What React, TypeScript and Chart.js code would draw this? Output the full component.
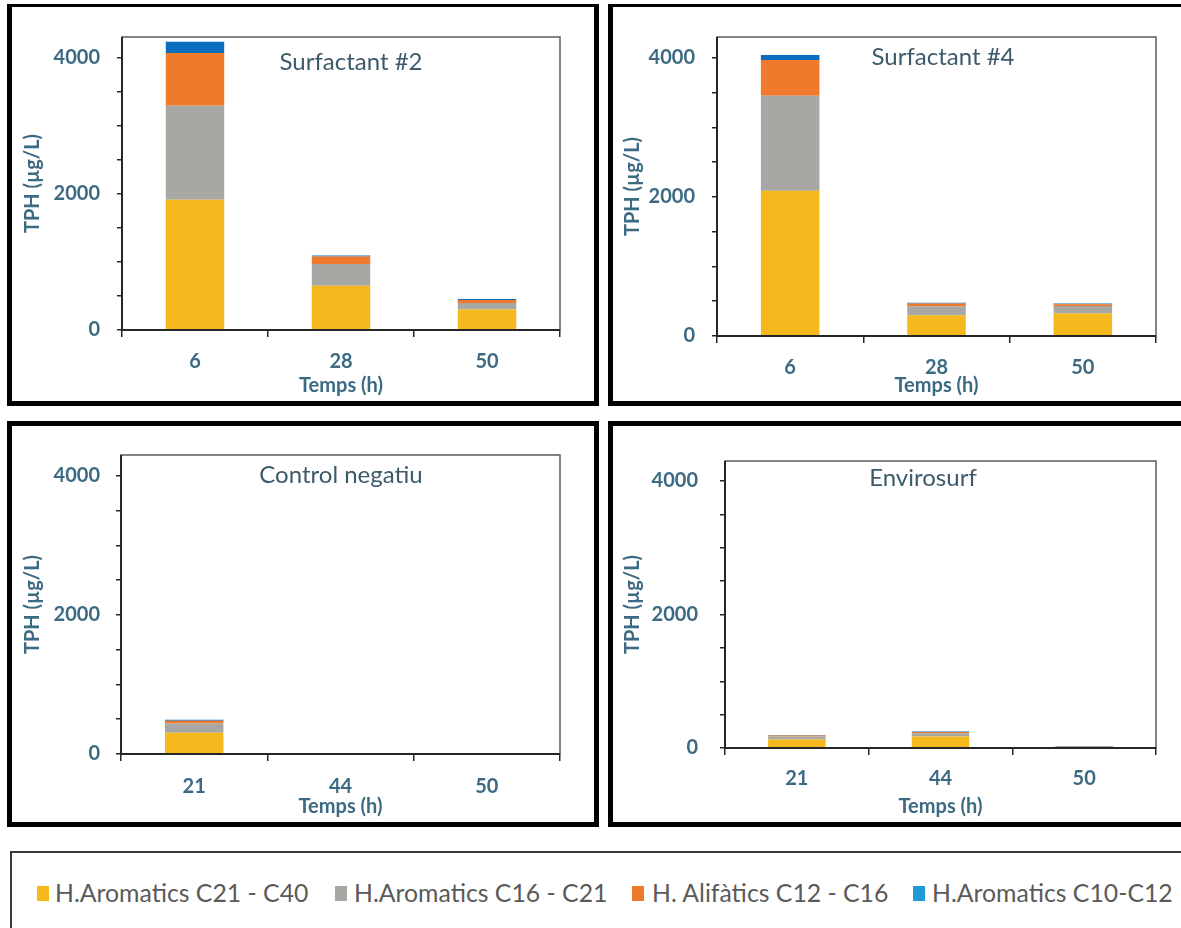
import React, { useEffect, useRef } from 'react';
import { Chart, registerables } from 'chart.js';

Chart.register(...registerables);

// ---------- data ----------
const seriesNames = [
  'H.Aromatics C21 - C40',
  'H.Aromatics C16 - C21',
  'H. Alifàtics C12 - C16',
  'H.Aromatics C10-C12',
];
const seriesColors = ['#F5B91E', '#A7A7A4', '#F07A2C', '#0B6DBE'];
const legendColors = ['#F5B91E', '#A7A7A4', '#F07A2C', '#1D9BD7'];

const timesSurf = ['6', '28', '50'];
const timesOther = ['21', '44', '50'];

const surf2C21C40 = [1910, 650, 300];
const surf2C16C21 = [1380, 320, 97];
const surf2C12C16 = [775, 110, 42];
const surf2C10C12 = [165, 15, 17];

const surf4C21C40 = [2090, 300, 324];
const surf4C16C21 = [1365, 129, 109];
const surf4C12C16 = [515, 38, 24];
const surf4C10C12 = [70, 12, 10];

const ctrlC21C40 = [306, 0, 0];
const ctrlC16C21 = [134, 0, 0];
const ctrlC12C16 = [38, 0, 0];
const ctrlC10C12 = [14, 0, 0];

const enviC21C40 = [127, 171, 5];
const enviC16C21 = [44, 49, 5];
const enviC12C16 = [15, 20, 8];
const enviC10C12 = [10, 9, 7];

const yTickValues = [0, 500, 1000, 1500, 2000, 2500, 3000, 3500, 4000];
const yLabelValues = [0, 2000, 4000];
const yMax = 4300;

const yAxisTitle = 'TPH (µg/L)';
const xAxisTitle = 'Temps (h)';

// ---------- layout (page coordinates) ----------
type Geo = {
  canvas: { left: number; top: number; width: number; height: number };
  area: { l: number; t: number; r: number; b: number };
  titleX: number;
  titleY: number;
  yTitleX: number;
  xTitleY: number;
  tickPad: number;
  catPad: number;
};

type PanelDef = {
  title: string;
  cats: string[];
  series: number[][];
  geo: Geo;
};

const panels: PanelDef[] = [
  {
    title: 'Surfactant #2',
    cats: timesSurf,
    series: [surf2C21C40, surf2C16C21, surf2C12C16, surf2C10C12],
    geo: {
      canvas: { left: 12, top: 8, width: 582, height: 393 },
      area: { l: 122, t: 35, r: 560, b: 330 },
      titleX: 351, titleY: 62, yTitleX: 33, xTitleY: 386, tickPad: 17, catPad: 13,
    },
  },
  {
    title: 'Surfactant #4',
    cats: timesSurf,
    series: [surf4C21C40, surf4C16C21, surf4C12C16, surf4C10C12],
    geo: {
      canvas: { left: 614, top: 8, width: 567, height: 393 },
      area: { l: 717, t: 35, r: 1156, b: 336 },
      titleX: 943, titleY: 57, yTitleX: 633, xTitleY: 386, tickPad: 17, catPad: 13,
    },
  },
  {
    title: 'Control negatiu',
    cats: timesOther,
    series: [ctrlC21C40, ctrlC16C21, ctrlC12C16, ctrlC10C12],
    geo: {
      canvas: { left: 12, top: 427, width: 582, height: 394 },
      area: { l: 121, t: 454, r: 560, b: 754 },
      titleX: 341, titleY: 475, yTitleX: 33, xTitleY: 807, tickPad: 16, catPad: 14,
    },
  },
  {
    title: 'Envirosurf',
    cats: timesOther,
    series: [enviC21C40, enviC16C21, enviC12C16, enviC10C12],
    geo: {
      canvas: { left: 614, top: 427, width: 567, height: 394 },
      area: { l: 725, t: 454, r: 1156, b: 748 },
      titleX: 923, titleY: 478, yTitleX: 633, xTitleY: 807, tickPad: 22, catPad: 12,
    },
  },
];

const TEXT_COLOR = '#3c6a83';
const TITLE_COLOR = '#3d5a6b';
const FONT = 'Lato';

const decorPlugin = {
  id: 'panelDecor',
  afterDatasetsDraw(chart: any, _args: any, opts: any) {
    const { ctx, chartArea: a } = chart;
    ctx.save();
    ctx.strokeStyle = '#5c5c5c';
    ctx.lineWidth = 1.5;
    ctx.strokeRect(a.left, a.top, a.right - a.left, a.bottom - a.top);
    ctx.strokeStyle = '#262626';
    ctx.lineWidth = 2;
    ctx.beginPath();
    ctx.moveTo(a.left, a.top);
    ctx.lineTo(a.left, a.bottom);
    ctx.lineTo(a.right, a.bottom);
    ctx.stroke();
    ctx.font = `400 24px ${FONT}`;
    ctx.fillStyle = TITLE_COLOR;
    ctx.textAlign = 'center';
    ctx.textBaseline = 'middle';
    ctx.fillText(opts.text, opts.x, opts.y);
    ctx.restore();
  },
};

function Panel({ def }: { def: PanelDef }) {
  const ref = useRef<HTMLCanvasElement | null>(null);
  useEffect(() => {
    if (!ref.current) return;
    const g = def.geo;
    const c = g.canvas;
    const padTop = g.area.t - c.top;
    const yWidth = g.area.l - c.left;
    const padRight = c.left + c.width - g.area.r;
    const xHeight = c.top + c.height - g.area.b;
    const axisFontSize = 20;
    const lh = axisFontSize * 1.2;
    const chart = new Chart(ref.current, {
      type: 'bar',
      data: {
        labels: def.cats,
        datasets: def.series.map((vals, i) => ({
          label: seriesNames[i],
          data: vals,
          backgroundColor: seriesColors[i],
          borderWidth: 0,
          barPercentage: 0.4,
          categoryPercentage: 1,
        })),
      },
      options: {
        responsive: false,
        animation: false,
        devicePixelRatio: 1,
        layout: { padding: { left: 0, top: padTop, right: padRight, bottom: 0 } },
        plugins: {
          legend: { display: false },
          tooltip: { enabled: false },
          title: { display: false },
          panelDecor: { text: def.title, x: g.titleX - c.left, y: g.titleY - c.top },
        } as any,
        scales: {
          x: {
            stacked: true,
            afterFit: (s: any) => { s.height = xHeight; },
            border: { display: false },
            grid: {
              display: true,
              offset: true,
              drawOnChartArea: false,
              drawTicks: true,
              tickLength: 7,
              color: '#262626',
              lineWidth: 1.5,
            },
            ticks: {
              color: TEXT_COLOR,
              font: { family: FONT, size: axisFontSize, weight: 'bold' },
              padding: g.catPad,
              maxRotation: 0,
            },
            title: {
              display: true,
              text: xAxisTitle,
              color: TEXT_COLOR,
              font: { family: FONT, size: axisFontSize, weight: 'bold' },
              padding: { top: 0, bottom: c.top + c.height - g.xTitleY - lh / 2 },
            },
          },
          y: {
            stacked: true,
            min: 0,
            max: yMax,
            afterFit: (s: any) => { s.width = yWidth; },
            afterBuildTicks: (s: any) => {
              s.ticks = yTickValues.map((v) => ({ value: v }));
            },
            border: { display: false },
            grid: {
              display: true,
              drawOnChartArea: false,
              drawTicks: true,
              tickLength: 5,
              color: '#262626',
              lineWidth: 1.5,
            },
            ticks: {
              autoSkip: false,
              color: TEXT_COLOR,
              font: { family: FONT, size: axisFontSize, weight: 'bold' },
              padding: g.tickPad,
              callback: (v: any) => (yLabelValues.includes(Number(v)) ? String(v) : ''),
            },
            title: {
              display: true,
              text: yAxisTitle,
              color: TEXT_COLOR,
              font: { family: FONT, size: axisFontSize, weight: 'bold' },
              padding: { top: g.yTitleX - c.left - lh / 2, bottom: 0 },
            },
          },
        },
      },
      plugins: [decorPlugin],
    });
    return () => chart.destroy();
  }, [def]);
  const c = def.geo.canvas;
  return (
    <canvas
      ref={ref}
      width={c.width}
      height={c.height}
      style={{ position: 'absolute', left: c.left, top: c.top, width: c.width, height: c.height }}
    />
  );
}

const frames = [
  { left: 7, top: 4, width: 592, height: 402, bt: 3, br: 5 },
  { left: 608, top: 4, width: 600, height: 402, bt: 3, br: 0 },
  { left: 7, top: 421, width: 592, height: 406, bt: 5, br: 5 },
  { left: 608, top: 421, width: 600, height: 406, bt: 5, br: 0 },
];

const legendPos = [
  { box: 37, text: 55 },
  { box: 335, text: 354 },
  { box: 632, text: 652 },
  { box: 913, text: 932 },
];

export default function App() {
  return (
    <div
      style={{
        position: 'absolute',
        left: 0,
        top: 0,
        width: 1181,
        height: 928,
        overflow: 'hidden',
        background: '#fff',
        fontFamily: FONT,
      }}
    >
      {frames.map((f, i) => (
        <div
          key={i}
          style={{
            position: 'absolute',
            left: f.left,
            top: f.top,
            width: f.width,
            height: f.height,
            boxSizing: 'border-box',
            borderStyle: 'solid',
            borderColor: '#000',
            borderWidth: `${f.bt}px ${f.br}px 5px 5px`,
          }}
        />
      ))}
      {panels.map((p, i) => (
        <Panel key={i} def={p} />
      ))}
      <div
        style={{
          position: 'absolute',
          left: 10,
          top: 851,
          width: 1200,
          height: 120,
          boxSizing: 'border-box',
          borderTop: '2px solid #3a3a3a',
          borderLeft: '2px solid #3a3a3a',
        }}
      />
      {seriesNames.map((name, i) => (
        <React.Fragment key={i}>
          <div
            style={{
              position: 'absolute',
              left: legendPos[i].box,
              top: 886,
              width: 12,
              height: 15,
              background: legendColors[i],
            }}
          />
          <div
            style={{
              position: 'absolute',
              left: legendPos[i].text,
              top: 878,
              height: 30,
              lineHeight: '30px',
              fontSize: 24.8,
              color: '#5a5a5a',
              whiteSpace: 'nowrap',
            }}
          >
            {name}
          </div>
        </React.Fragment>
      ))}
    </div>
  );
}
